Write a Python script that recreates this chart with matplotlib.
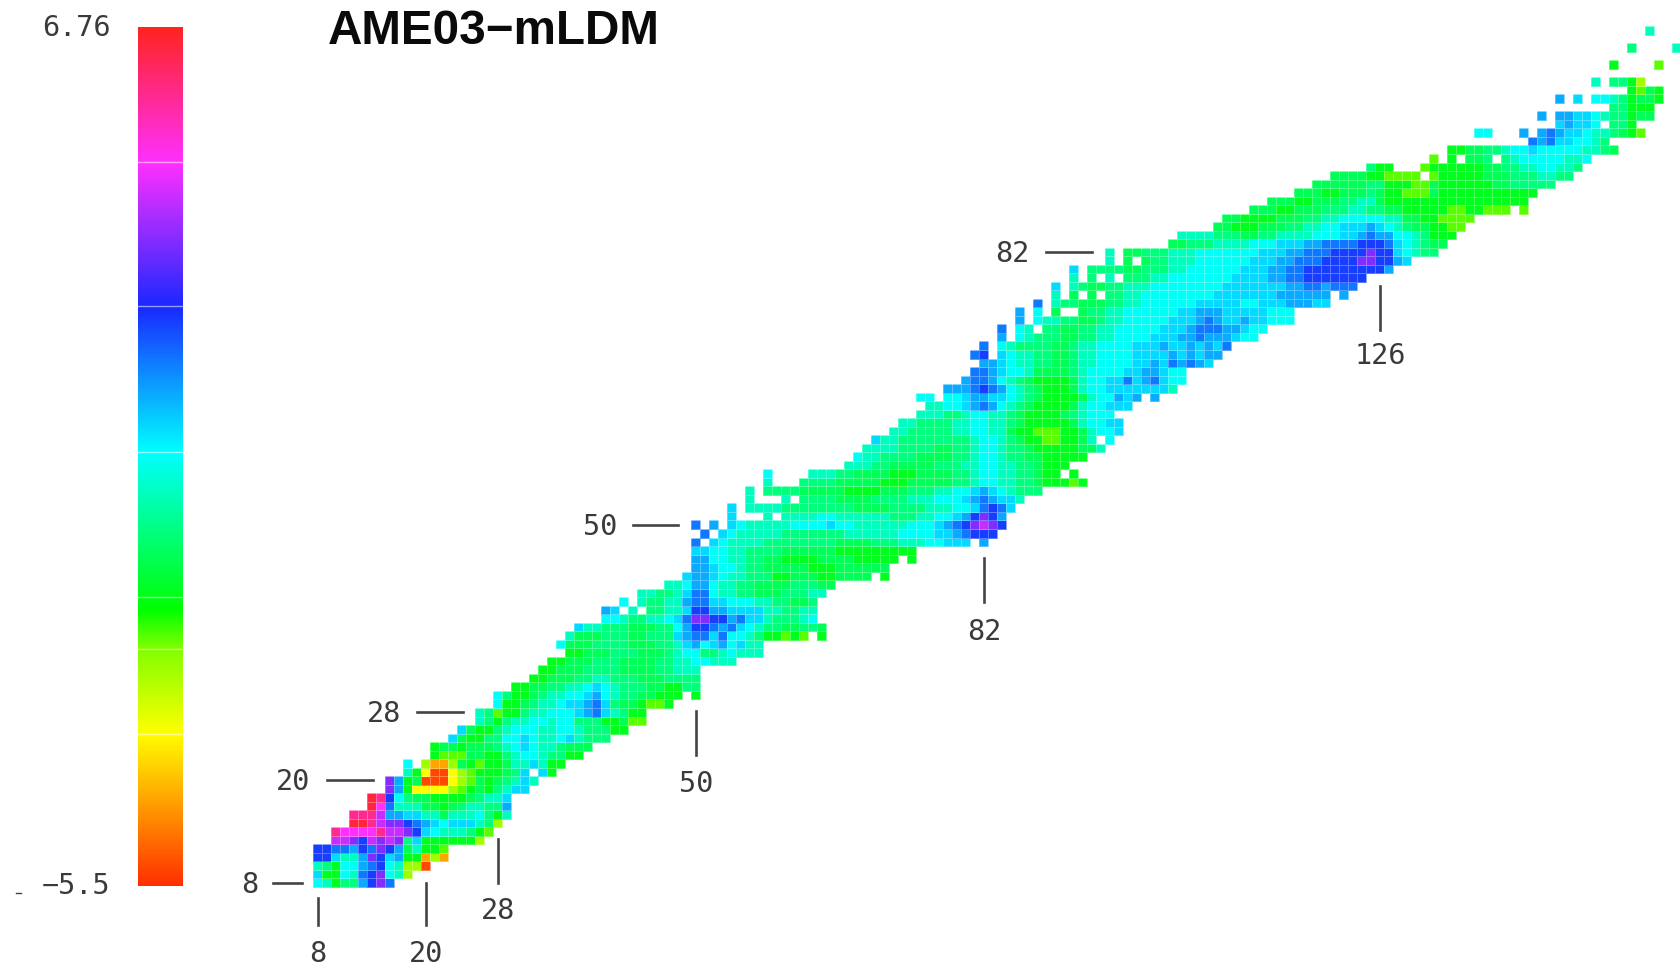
import numpy as np
import matplotlib
matplotlib.use("Agg")
import matplotlib.pyplot as plt
from matplotlib.colors import LinearSegmentedColormap
from matplotlib.lines import Line2D
from matplotlib.transforms import Affine2D

# mass residual levels (MeV)
VMIN, VMAX = -5.5, 6.76
LEVELS = {'R': -5.25, 'O': -4.27, 'Y': -3.33, 'L': -2.4, 'l': -1.94, 'G': -1.3, 'g': -0.8,
          's': -0.45, 't': 0.12, 'c': 0.62, 'k': 1.05, 'b': 1.5, 'B': 2.0, 'D': 2.55,
          'V': 3.7, 'P': 4.3, 'M': 4.84, 'H': 5.8, 'r': 6.5}
# per proton number Z: "<first N><level>" runs, "_" = no nucleus, last number = end of the row
ROWS_LOW = {
 8: "8c 9t 10G 11s 13b 14D 15V 16B 17",
 9: "8k 9G 11c 12t 13B 14D 15V 16c 17t 18L 19",
 10: "8t 9s 10G 11c 13b 14B 15D 16c 17t 18L 20R 21",
 11: "8D 10k 11t 13b 14V 15D 16k 17b 18G 20O 21L 22O 23",
 12: "8D 10B 12b 13D 14B 15V 16D 17b 18g 19t 20G 22l 23",
 13: "10P 12V 13D 14P 15V 16P 17V 18s 19k 20G 26L 27",
 14: "10H 11M 15H 16P 18V 19D 20k 21c 22t 25s 26G 27l 28",
 15: "12r 14H 15P 16V 18D 19B 20b 21k 22c 23k 26t 27s 28L 29",
 16: "12H 15P 16b 18k 20t 22g 23t 26c 27s 28G 29t 30",
 17: "14r 15M 16B 17t 20g 22G 23g 24s 25t 27s 29b 30",
 18: "14r 15H 16D 17c 18s 19g 21G 25g 26s 27t 29k 30",
 19: "16V 17b 18G 19Y 23L 24l 25G 26g 27G 28s 29t 30k 32",
 20: "16V 17b 18G 19g 20R 23Y 24L 25l 26g 27G 28g 29s 30t 31k 32t 33",
 21: "18t 19G 20Y 21R 23Y 24L 25l 26G 29g 30s 31k 32_ 33k 34G 35",
 22: "18c 19_ 20L 21O 23L 24g 25G 26l 27G 29g 30t 32k 33t 34G 36",
 23: "21G 22l 25g 27G 29s 30t 31c 33t 34s 36G 38",
 24: "21G 22g 24G 25g 28s 29t 30c 31k 32c 33t 35s 36g 39",
 25: "23k 24g 25G 27s 29c 31k 32c 33t 35c 36k 37t 38s 41",
 26: "24k 25g 26G 28s 29t 30c 33t 35c 37t 38s 41G 43",
 27: "26t 27s 28G 29s 30t 32c 34t 35c 37s 40G 42g 43l 45",
 28: "26t 27s 28l 29G 31s 32t 34c 37k 38b 39B 40k 41t 42s 43G 45",
 29: "28c 29G 31g 32s 33t 35c 36k 38b 39B 40k 41s 42g 44G 45l 47G 48",
 30: "28c 29s 30G 32g 33s 34t 36c 38k 39b 40c 41t 42s 44g 46G 49_ 50G 51",
 31: "30G 32g 34s 36t 38c 39k 40c 41t 42s 45g 47G 49s 51",
 32: "32G 34g 37s 39t 41s 44g 47s 51",
 33: "33G 35g 38s 42g 46s 48t 51",
 34: "34G 36g 39s 42g 46s 48t 50c 52t 55",
 35: "36G 38g 41s 44g 47s 48t 49c 51s 53t 54c 55t 58",
 36: "35c 36g 39s 43g 46s 48t 49k 50b 51c 52k 53b 54c 55k 56t 58",
 37: "36t 37g 40s 43g 45s 48k 49b 50B 52k 53B 54c 56t 57s 58G 60l 61G 62l 63_ 64G 65",
 38: "37k 38t 40s 43g 46s 48c 49b 50D 52B 53b 54B 55k 56c 57t 58s 60g 62s 64g 65",
 39: "40c 42t 43s 45t 47c 48k 49B 50V 52D 54b 55B 56k 58t 59s 62t 63c 64",
 40: "40b 41k 42_ 43t 44_ 45s 47t 49k 50D 52b 54k 58t 60s 62t 64",
 41: "42c 43_ 44t 45s 47t 49b 50B 52k 54c 57t 59s 61g 63s 64",
 42: "44t 46s 48t 49k 50B 52c 53t 55s 57g 60s 63t 65",
 43: "47t 49c 50b 52c 53t 55s 57g 61s 64g 66",
 44: "49k 50b 52k 53c 54t 56s 59G 61g 64G 66g 70_ 71G 72",
 45: "50b 52k 53c 55t 56s 58g 63G 66g 72",
 46: "50b 52c 54t 56s 58g 60G 64g 68G 73_ 74G 75",
 47: "50k 52c 54t 56s 60g 66G 75",
 48: "50B 51_ 52k 53c 54t 58s 66g 70s 73t 76c 78k 81_ 82b 83",
 49: "50_ 51B 52_ 53k 54c 55t 60s 67t 73c 77k 79b 80B 81D 84",
 50: "50B 51_ 52b 53_ 54k 55c 56t 61c 65k 66c 68t 74c 77k 78b 79B 80D 81V 82P 83V 84D 85",
}
ROWS_MID = {
 51: "54k 55_ 58t 59_ 60t 64c 66t 72s 75t 77c 79k 80b 81D 82V 83D 84b 85",
 52: "54k 55_ 56t 60s 68g 72s 76t 79c 81k 82B 83D 84B 85k 86",
 53: "56t 57_ 60t 61_ 62s 66g 70s 74t 77c 80k 81b 82B 83b 84k 86t 87",
 54: "56t 57_ 58s 62g 67G 71g 74s 77t 79c 81k 82b 83k 84c 85t 86s 89",
 55: "58t 59_ 62s 66g 71G 74g 79s 81t 82c 84t 86s 88g 89G 92l 93G 94",
 56: "58c 59_ 63t 66s 68g 72G 75g 79s 81t 82c 84t 86s 88g 89G 91_ 92G 93",
 57: "67t 70s 72g 77s 80t 82c 84t 86s 88g 89G 92",
 58: "68c 69t 71s 75g 79s 81t 82c 84t 85s 87g 89G 94",
 59: "69t 73s 77g 79s 81t 82c 84t 85s 87g 88G 93g 95t 96",
 60: "70k 71t 73s 79s 81t 82c 84t 85s 86g 87G 89l 91G 93g 94t 95_ 96c 97",
 61: "72t 74s 79t 81c 83t 85g 86G 88l 91G 93g 94t 95c 97k 98",
 62: "73t 75s 79t 81c 83t 85s 86g 87G 92g 93t 94c 96k 98",
 63: "75t 78s 80t 81c 83t 85s 86g 87G 91g 92s 93t 94c 97",
 64: "76t 78c 80k 81b 82B 83b 84c 85t 86s 87g 88G 92g 93t 94c 96k 99",
 65: "75c 77_ 78c 80k 81b 83k 85c 86t 87s 88g 89G 93g 94t 95c 97b 98k 99b 100_ 101b 102",
 66: "78b 81B 82D 83B 84b 85c 86t 87s 88g 89G 92g 93t 94c 96k 103t 104",
 67: "80b 81B 83b 84c 85t 86s 87g 88G 92g 93t 94c 96k 98B 99k 100b 101B 102k 103c 105",
 68: "81B 83b 84k 85c 87t 88g 92s 93t 94c 98k 100b 102k 103c 105",
 69: "82b 84k 85c 86t 88s 90g 92s 93t 95c 99k 101b 102k 103B 104b 105B 106b 107k 108",
 70: "81B 82D 83_ 84k 85c 86t 88s 90g 92s 93t 95c 99k 103b 104k 105b 106k 107b 109",
 71: "82B 83_ 84c 85t 86s 90g 92s 93t 95c 99k 102b 103k 105b 106k 107b 108k 109B 110",
 72: "84b 85_ 86c 87t 88s 91g 93s 95t 97c 101k 104b 106B 107b 110k 111c 113",
 73: "84B 85_ 86c 87t 88_ 89s 91g 93s 95t 97c 102k 105b 106B 109b 111k 112c 114",
 74: "86b 87_ 88c 89t 91s 93g 95s 96t 98c 103k 106b 107B 108b 109k 111b 112k 114c 117",
 75: "86b 87_ 88c 89_ 90g 91_ 93g 94s 96t 98c 104k 106b 109k 114c 117",
 76: "88B 89_ 90t 91s 93g 96s 98t 100c 106k 111c 113k 116b 119k 121",
 77: "90t 91_ 92g 93_ 94g 95_ 96s 98t 100c 108k 115b 121_ 122b 123",
 78: "90k 91_ 92t 93s 94g 96s 98t 101c 109k 116b 118B 120b 121B 124",
 79: "92t 93_ 94s 95_ 96t 97_ 98s 101t 103c 110k 114b 116B 118D 125",
 80: "92k 93_ 94s 98g 100s 103t 105c 111k 114b 116B 118D 127b 128",
}
ROWS_HIGH = {
 81: "96t 97_ 98g 99_ 100g 101s 103t 106c 112k 115b 117B 120D 124V 126D 128b 129k 130",
 82: "96t 97_ 98g 100s 103t 106c 113k 116b 118B 121D 125V 126D 128k 129c 130t 131s 133",
 83: "103g 105s 108t 112c 115k 118b 120B 124D 127B 128k 129c 130t 131s 132g 134",
 84: "104t 108s 111g 113s 115t 119c 122k 124b 125B 126b 128c 130t 131s 132G 135",
 85: "108g 110G 113g 116s 118t 120c 122k 125b 126k 127c 128t 129s 130g 132G 134l 136",
 86: "109g 111G 115g 118s 120t 122c 127t 129g 131G 133l 137",
 87: "112g 115G 117g 120s 123t 125s 127g 129G 134l 136G 138l 141_ 142l 143",
 88: "114g 117G 119g 122s 124t 126g 127G 143",
 89: "117g 120G 122g 125s 126g 127G 129l 132g 133G 144",
 90: "119g 125s 127G 130l 132g 133G 139g 141s 146",
 91: "121g 125G 127l 131_ 132l 133G 138g 141s 144t 146s 148",
 92: "125s 126G 128_ 131l 132G 138g 140s 142t 144c 146t 148s 149",
 93: "132l 133_ 134G 135_ 136g 138s 139_ 140s 141t 142c 147t 149c 150",
 94: "134G 136g 138s 140t 141c 143k 144c 149t 151s 152g 153",
 95: "143B 144b 145B 146k 148c 150t 151s 152",
 96: "137c 139_ 142b 143_ 144b 145B 146b 147k 149c 150t 152s 153g 154G 155l 156",
 97: "146k 147b 148k 150c 151_ 152s 154G 155",
 98: "144b 145_ 146b 148k 150c 151t 152s 154G 155g 157",
 99: "152s 154G 157",
 100: "146b 147_ 148k 149_ 150c 152t 153s 154G 155g 157G 158",
 101: "154G 155l 156g 157G 158",
 102: "150t 151_ 152s 154G 155L 156",
 104: "152G 153_ 157l 158",
 106: "154s 155_ 159t 160",
 108: "156t 157",
}
X_TICKS = [8, 20, 28, 50, 82, 126]
Y_TICKS = [8, 20, 28, 50, 82]
TITLE = "AME03\u2212mLDM"
CBAR_LABELS = ["6.76", "\u22125.5"]

W, H = 1680, 966
fig = plt.figure(figsize=(W/100, H/100), dpi=100, facecolor='white')
ax = fig.add_axes([0, 0, 1, 1])
dx, dy = 9.0, 8.523           # pixels per neutron / proton
x0, y0 = 318.0, 882.7         # pixel of N=8, Z=8
ax.set_xlim(8 - x0/dx, 8 + (W - x0)/dx)
ax.set_ylim(8 - (H - y0)/dy, 8 + y0/dy)
ax.axis('off')

# colour scale: fractions of the range at which the hues of the bar change
stops = [(0.0, '#ff3000'), (0.177, '#ffff00'), (0.276, '#80ff00'), (0.321, '#00ff00'),
         (0.505, '#00ffff'), (0.675, '#1a28ff'), (0.843, '#ff30ff'), (1.0, '#ff2420')]
cmap = LinearSegmentedColormap.from_list('ldm', stops, N=512)

grid = np.full((112, 170), np.nan)
for rows in (ROWS_LOW, ROWS_MID, ROWS_HIGH):
    for z, spec in rows.items():
        tokens = spec.split()
        for tok, nxt in zip(tokens[:-1], tokens[1:]):
            start, code = int(tok[:-1]), tok[-1]
            stop = int(nxt[:-1]) if not nxt[-1].isdigit() else int(nxt)
            if code != '_':
                grid[z, start:stop] = LEVELS[code]
n_edges = np.arange(171) - 0.5
z_edges = np.arange(113) - 0.5
ax.pcolormesh(n_edges, z_edges, np.ma.masked_invalid(grid), cmap=cmap, vmin=VMIN, vmax=VMAX,
              edgecolors=(1, 1, 1, 0.3), linewidth=0.7)

# pixel-space overlay (origin at the top left)
px = Affine2D().scale(1, -1).translate(0, H)
ink = '#3a3a3a'
def seg(x1, y1, x2, y2, lw=1.9):
    fig.add_artist(Line2D([x1, x2], [y1, y2], transform=px, color='#444444', lw=lw))
def lab(x, y, s, size=20.5):
    fig.text(x, y, s, transform=px, family='DejaVu Sans Mono', fontsize=size, color=ink,
             ha='center', va='center')
def X(n): return x0 + (n - 8)*dx
def Y(z): return y0 - (z - 8)*dy

# left-hand ticks: (Z, line start, line end, label centre x)
for z, a, b, lx in zip(Y_TICKS, [273, 327, 417, 633, 1046], [302, 373, 463, 678, 1092],
                       [250, 293, 384, 600, 1012]):
    seg(a, Y(z), b, Y(z))
    lab(lx, Y(z) + 2, str(z))
# bottom ticks: (N, line start, line end, label centre y)
for n, a, b, ly in zip(X_TICKS, [898, 883, 839, 711, 558, 286], [925, 925, 883, 755, 602, 330],
                       [951, 951, 908, 781, 629, 353]):
    seg(X(n), a, X(n), b)
    lab(X(n), ly + 3, str(n))

# colour bar
cax = fig.add_axes([138/W, 1 - 886/H, 45/W, (886 - 27)/H])
cax.imshow(np.linspace(VMAX, VMIN, 859)[:, None], aspect='auto', cmap=cmap, vmin=VMIN, vmax=VMAX)
cax.axis('off')
for py in [162, 306, 452, 597, 649, 734]:
    fig.add_artist(Line2D([138, 183], [py, py], transform=px, color='white', lw=1.0, alpha=0.55))
lab(76, 28, CBAR_LABELS[0])
lab(76, 886, CBAR_LABELS[1])
seg(16, 893, 21, 893, lw=1.0)

fig.text(494, 32, TITLE, transform=px, family='Liberation Sans', fontweight='bold',
         fontsize=34.3, color='#0a0a0a', ha='center', va='center')
fig.savefig('out.png', dpi=100)
